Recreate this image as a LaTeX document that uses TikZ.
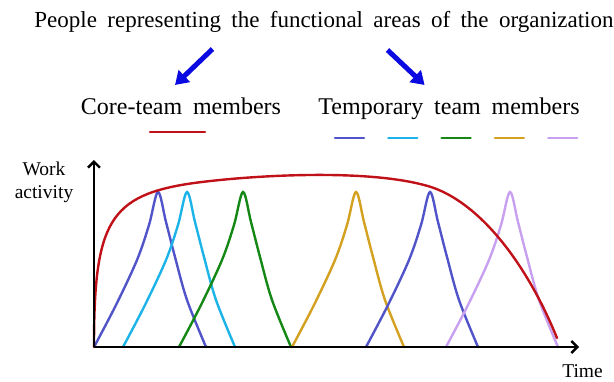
\documentclass[tikz,border=0pt]{standalone}
\usepackage{fontspec}
\setmainfont{Liberation Serif}[WordSpace=1.8]
\usetikzlibrary{arrows.meta}
\definecolor{coreRed}{RGB}{192,16,24}
\definecolor{tempBlue}{RGB}{80,84,200}
\definecolor{tempCyan}{RGB}{28,180,232}
\definecolor{tempGreen}{RGB}{20,135,20}
\definecolor{tempGold}{RGB}{212,160,32}
\definecolor{tempLilac}{RGB}{200,160,240}
\definecolor{arrowBlue}{RGB}{10,10,225}
\begin{document}
\begin{tikzpicture}[x=1pt,y=1pt,
    heading/.style={font=\fontsize{24}{28}\selectfont, anchor=base, inner sep=0pt},
    axislabel/.style={font=\fontsize{19.5}{23}\selectfont, inner sep=0pt, align=center},
    curve/.style={line width=2.4pt, line cap=round},
    axisline/.style={line width=2.4pt, -{Straight Barb[length=6pt,width=12pt]}},
    pointer/.style={arrowBlue, line width=5pt, -{Triangle[length=13pt,width=16pt]}}]
        \useasboundingbox (-94,-34) rectangle (520,347);
        \node[heading, font=\fontsize{23}{27}\selectfont] (title) at (230,319) {People representing the functional areas of the organization};
        \node[heading] (core) at (87,232) {Core-team members};
        \node[heading] (temp) at (355,232) {Temporary team members};
        \coordinate (coreTail) at (118.5,298);
        \coordinate (coreTip) at (81,262);
        \coordinate (tempTail) at (293.5,297);
        \coordinate (tempTip) at (330.6,262);
        \draw[pointer] (coreTail) -- (coreTip);
        \draw[pointer] (tempTail) -- (tempTip);
        % legend
        \draw[curve,coreRed] (56,215) -- (111,215);
        \foreach \c [count=\i from 0] in {tempBlue,tempCyan,tempGreen,tempGold,tempLilac}
            \draw[curve,\c] ({241+53.3*\i},209) -- ++(29,0);
        % temporary members
        \foreach \s/\c in {0/tempBlue,29/tempCyan,85/tempGreen,198/tempGold,272/tempBlue,352/tempLilac}
            \draw[curve,\c,shift={(\s,0)}] plot[smooth,tension=0.55] coordinates
                {(0,0) (22,42) (43,87) (55,122) (64,155) (72,125) (81,90) (93,47) (112,0)};
        % core team
        \draw[curve,coreRed] (0,0) .. controls (0,125) and (15,152) .. (100,164)
            .. controls (160,172) and (270,178) .. (330,162)
            .. controls (380,150) and (430,90) .. (463,9);
        % axes
        \coordinate (O) at (0,0);
        \coordinate (yTop) at (0,187);
        \coordinate (xEnd) at (485,0);
        \draw[axisline] (O) -- (yTop);
        \draw[axisline] (O) -- (xEnd);
        \node[axislabel, anchor=north] (work) at (-50,185) {Work\\activity};
        \node[axislabel, anchor=base] (time) at (488.5,-30) {Time};
\end{tikzpicture}
\end{document}
